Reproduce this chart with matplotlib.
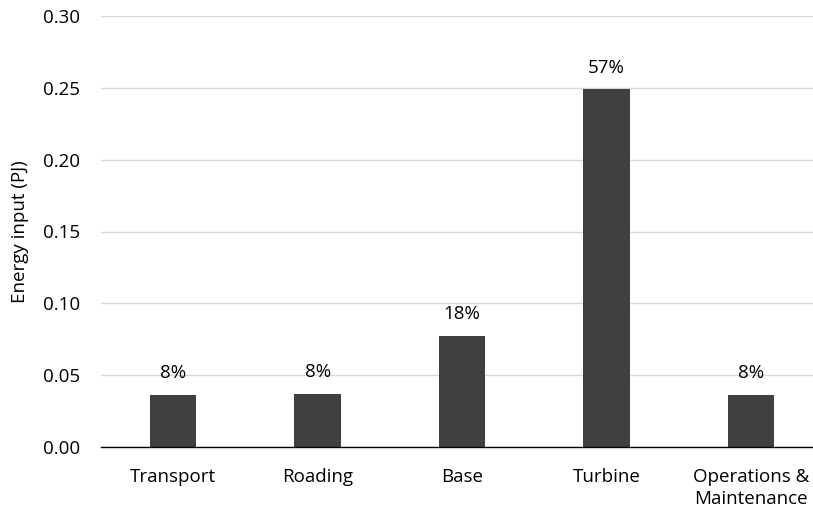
import matplotlib.pyplot as plt

plt.rcParams['font.family'] = ['Open Sans', 'DejaVu Sans']

# data
categories = ['Transport', 'Roading', 'Base', 'Turbine', 'Operations &\nMaintenance']
energy = [0.0362, 0.0370, 0.0775, 0.2490, 0.0362]
shares = ['8%', '8%', '18%', '57%', '8%']

fig = plt.figure(figsize=(8.13, 5.13), dpi=100)
# axes runs a bit past the right edge, as in the original
ax = fig.add_axes([101 / 813, (513 - 447) / 513, 722 / 813, 431 / 513])

x = range(len(categories))
bars = ax.bar(x, energy, width=0.32, color='#404040', zorder=3)

for b, s in zip(bars, shares):
    ax.annotate(s, (b.get_x() + b.get_width() / 2, b.get_height()),
                xytext=(0, 9), textcoords='offset points',
                ha='center', va='bottom', fontsize=13.5, color='#000000')

ax.set_xlim(-0.5, len(categories) - 0.5)
ax.set_ylim(0, 0.30)
ax.set_yticks([0, 0.05, 0.10, 0.15, 0.20, 0.25, 0.30])
ax.set_yticklabels(['0.00', '0.05', '0.10', '0.15', '0.20', '0.25', '0.30'])
ax.set_xticks(list(x))
ax.set_xticklabels(categories, linespacing=1.28)

ax.set_ylabel('Energy input (PJ)', fontsize=13.5, labelpad=10)

ax.grid(axis='y', color='#d9d9d9', linewidth=1, zorder=0)
for side in ['top', 'right', 'left']:
    ax.spines[side].set_visible(False)
ax.spines['bottom'].set_color('#000000')
ax.spines['bottom'].set_linewidth(1)
ax.spines['bottom'].set_zorder(4)

ax.tick_params(axis='both', length=0, labelsize=13.5, colors='#000000')
ax.tick_params(axis='x', pad=15)
ax.tick_params(axis='y', pad=15)

plt.savefig('out.png', dpi=100)
